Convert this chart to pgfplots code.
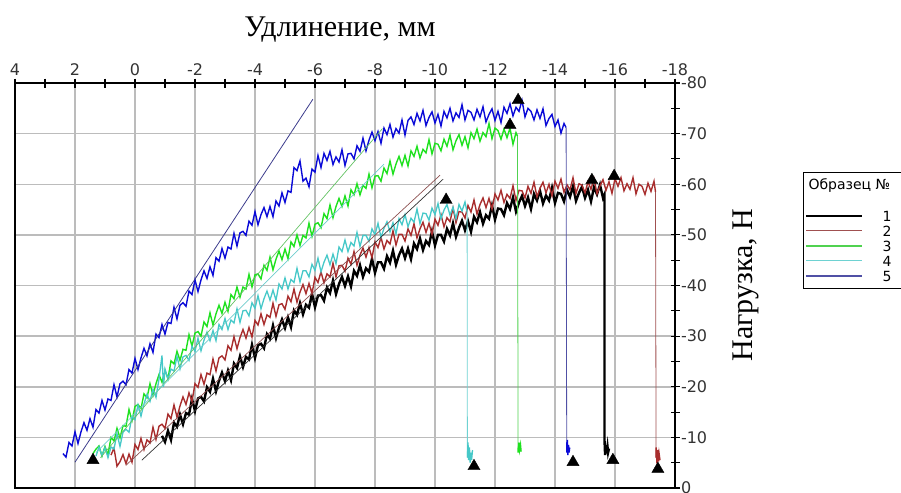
\documentclass[border=0pt]{standalone}
\usepackage{pgfplots}
\pgfplotsset{compat=1.18}
\usepackage{fontspec}
\setmainfont{Liberation Serif}
\newfontfamily\verd{DejaVu Sans}
\definecolor{gridc}{RGB}{188,188,188}
\definecolor{cblue}{RGB}{10,10,215}
\definecolor{cgreen}{RGB}{30,225,30}
\definecolor{ccyan}{RGB}{70,200,200}
\definecolor{cred}{RGB}{168,45,45}
\definecolor{fblue}{RGB}{60,60,140}
\definecolor{fgreen}{RGB}{100,195,100}
\definecolor{fcyan}{RGB}{110,205,205}
\definecolor{fred}{RGB}{140,80,80}
\definecolor{fblack}{RGB}{50,50,50}
\definecolor{lred}{RGB}{160,80,80}
\definecolor{lgreen}{RGB}{80,210,80}
\definecolor{lcyan}{RGB}{110,210,210}
\definecolor{lblue}{RGB}{80,80,165}
\begin{document}
\begin{tikzpicture}[x=1pt,y=1pt]
\path[use as bounding box] (0,0) rectangle (901,492);
\begin{axis}[
  at={(15pt,4pt)}, anchor=south west,
  width=660pt, height=405pt, scale only axis,
  xmin=-18, xmax=4, ymin=-80, ymax=0,
  x dir=reverse, y dir=reverse,
  xtick={-18,-16,...,4},
  xticklabels={-18,-16,-14,-12,-10,-8,-6,-4,-2,0,2,4},
  ytick={-80,-70,...,0},
  yticklabels={-80,-70,-60,-50,-40,-30,-20,-10,0},
  minor x tick num=1, minor y tick num=1,
  xtick pos=upper, xticklabel pos=upper,
  ytick pos=right, yticklabel pos=right,
  tick align=center,
  major tick length=9pt, minor tick length=9pt,
  tick style={black, line width=1.1pt},
  grid=major, grid style={gridc, line width=1.5pt},
  axis line style={black, line width=1.5pt},
  ticklabel style={font=\verd\fontsize{16}{18}\selectfont, text=black!80},
  yticklabel style={anchor=west, xshift=-2pt},
  xticklabel style={yshift=-1pt},
  clip=true,
]
% Sample 1 (black)
\addplot[black, line width=2.4pt] coordinates {(-0.9,-10.3)(-1.0,-9.1)(-1.1,-11.3)(-1.2,-9.5)(-1.3,-12.9)(-1.4,-12.1)(-1.5,-14.5)(-1.6,-12.6)(-1.7,-14.8)(-1.8,-14.5)(-1.9,-17.6)(-2.0,-15.2)(-2.1,-17.7)(-2.2,-18.0)(-2.3,-17.1)(-2.4,-19.9)(-2.5,-19.0)(-2.6,-21.6)(-2.7,-19.1)(-2.8,-21.2)(-2.9,-22.8)(-3.0,-21.1)(-3.1,-23.2)(-3.2,-21.3)(-3.3,-24.6)(-3.4,-23.7)(-3.5,-26.0)(-3.6,-23.9)(-3.7,-25.9)(-3.8,-25.4)(-3.9,-28.3)(-4.0,-25.7)(-4.1,-28.2)(-4.2,-28.5)(-4.3,-27.6)(-4.4,-30.4)(-4.5,-29.5)(-4.6,-32.1)(-4.7,-29.6)(-4.8,-31.7)(-4.9,-33.3)(-5.0,-31.6)(-5.1,-33.7)(-5.2,-31.8)(-5.3,-35.1)(-5.4,-34.2)(-5.5,-36.5)(-5.6,-34.3)(-5.7,-36.2)(-5.8,-35.6)(-5.9,-38.4)(-6.0,-35.7)(-6.1,-38.0)(-6.2,-38.1)(-6.3,-37.0)(-6.4,-39.6)(-6.5,-38.5)(-6.6,-41.0)(-6.7,-38.3)(-6.8,-40.3)(-6.9,-41.7)(-7.0,-39.9)(-7.1,-41.8)(-7.2,-39.8)(-7.3,-42.9)(-7.4,-41.9)(-7.5,-44.0)(-7.6,-41.7)(-7.7,-43.4)(-7.8,-42.7)(-7.9,-45.3)(-8.0,-42.5)(-8.1,-44.6)(-8.2,-44.6)(-8.3,-43.3)(-8.4,-45.8)(-8.5,-44.5)(-8.6,-46.9)(-8.7,-44.1)(-8.8,-46.0)(-8.9,-47.3)(-9.0,-45.4)(-9.1,-47.3)(-9.2,-45.2)(-9.3,-48.3)(-9.4,-47.2)(-9.5,-49.3)(-9.6,-47.0)(-9.7,-48.8)(-9.8,-48.0)(-9.9,-50.7)(-10.0,-47.9)(-10.1,-50.0)(-10.2,-50.0)(-10.3,-48.7)(-10.4,-51.2)(-10.5,-49.9)(-10.6,-52.3)(-10.7,-49.6)(-10.8,-51.4)(-10.9,-52.8)(-11.0,-50.9)(-11.1,-52.7)(-11.2,-50.6)(-11.3,-53.6)(-11.4,-52.5)(-11.5,-54.5)(-11.6,-52.2)(-11.7,-53.9)(-11.8,-53.2)(-11.9,-55.8)(-12.0,-53.0)(-12.1,-55.2)(-12.2,-55.1)(-12.3,-53.9)(-12.4,-56.3)(-12.5,-55.1)(-12.6,-57.4)(-12.7,-54.6)(-12.8,-56.4)(-12.9,-57.7)(-13.0,-55.7)(-13.1,-57.4)(-13.2,-55.1)(-13.3,-58.1)(-13.4,-56.8)(-13.5,-58.7)(-13.6,-56.2)(-13.7,-57.8)(-13.8,-56.8)(-13.9,-59.3)(-14.0,-56.3)(-14.1,-58.3)(-14.2,-58.1)(-14.3,-56.6)(-14.4,-58.9)(-14.5,-57.5)(-14.6,-59.6)(-14.7,-56.7)(-14.8,-58.3)(-14.9,-59.5)(-15.0,-57.3)(-15.1,-58.9)(-15.2,-56.6)(-15.3,-59.4)(-15.4,-58.0)(-15.5,-59.9)(-15.6,-57.3)(-15.65,-58.0)(-15.65,-9.5)(-15.67,-6.5)(-15.7,-8.5)(-15.72,-6.8)(-15.75,-8.2)(-15.77,-7.0)(-15.8,-7.8)};
% Sample 2 (red)
\addplot[cred, line width=1.4pt] coordinates {(0.8,-6.5)(0.7,-7.9)(0.6,-4.3)(0.5,-5.2)(0.4,-6.6)(0.3,-4.8)(0.2,-6.7)(0.1,-5.1)(0.0,-8.6)(-0.1,-7.6)(-0.2,-9.8)(-0.3,-7.6)(-0.4,-9.5)(-0.5,-8.9)(-0.6,-12.0)(-0.7,-9.6)(-0.8,-12.2)(-0.9,-12.6)(-1.0,-11.8)(-1.1,-14.6)(-1.2,-13.7)(-1.3,-16.4)(-1.4,-14.0)(-1.5,-16.2)(-1.6,-18.0)(-1.7,-16.5)(-1.8,-18.8)(-1.9,-17.1)(-2.0,-20.6)(-2.1,-19.9)(-2.2,-22.4)(-2.3,-20.5)(-2.4,-22.7)(-2.5,-22.4)(-2.6,-25.5)(-2.7,-23.1)(-2.8,-25.7)(-2.9,-26.1)(-3.0,-25.3)(-3.1,-28.1)(-3.2,-27.2)(-3.3,-29.9)(-3.4,-27.5)(-3.5,-29.7)(-3.6,-31.3)(-3.7,-29.6)(-3.8,-31.7)(-3.9,-29.8)(-4.0,-33.1)(-4.1,-32.2)(-4.2,-34.4)(-4.3,-32.3)(-4.4,-34.2)(-4.5,-33.7)(-4.6,-36.5)(-4.7,-33.9)(-4.8,-36.2)(-4.9,-36.4)(-5.0,-35.3)(-5.1,-37.9)(-5.2,-36.8)(-5.3,-39.3)(-5.4,-36.7)(-5.5,-38.7)(-5.6,-40.2)(-5.7,-38.4)(-5.8,-40.4)(-5.9,-38.4)(-6.0,-41.6)(-6.1,-40.6)(-6.2,-42.7)(-6.3,-40.5)(-6.4,-42.3)(-6.5,-41.7)(-6.6,-44.4)(-6.7,-41.7)(-6.8,-43.9)(-6.9,-44.0)(-7.0,-42.8)(-7.1,-45.4)(-7.2,-44.2)(-7.3,-46.7)(-7.4,-44.0)(-7.5,-46.0)(-7.6,-47.4)(-7.7,-45.6)(-7.8,-47.5)(-7.9,-45.5)(-8.0,-48.6)(-8.1,-47.5)(-8.2,-49.5)(-8.3,-47.2)(-8.4,-48.9)(-8.5,-48.2)(-8.6,-50.8)(-8.7,-48.0)(-8.8,-50.1)(-8.9,-50.1)(-9.0,-48.8)(-9.1,-51.2)(-9.2,-49.9)(-9.3,-52.2)(-9.4,-49.4)(-9.5,-51.2)(-9.6,-52.5)(-9.7,-50.5)(-9.8,-52.3)(-9.9,-50.1)(-10.0,-53.1)(-10.1,-51.9)(-10.2,-54.0)(-10.3,-51.6)(-10.4,-53.4)(-10.5,-52.6)(-10.6,-55.3)(-10.7,-52.4)(-10.8,-54.6)(-10.9,-54.5)(-11.0,-53.3)(-11.1,-55.8)(-11.2,-54.5)(-11.3,-56.9)(-11.4,-54.1)(-11.5,-56.0)(-11.6,-57.3)(-11.7,-55.4)(-11.8,-57.2)(-11.9,-55.1)(-12.0,-58.1)(-12.1,-56.9)(-12.2,-58.8)(-12.3,-56.4)(-12.4,-58.0)(-12.5,-57.2)(-12.6,-59.7)(-12.7,-56.8)(-12.8,-58.8)(-12.9,-58.7)(-13.0,-57.3)(-13.1,-59.6)(-13.2,-58.2)(-13.3,-60.4)(-13.4,-57.5)(-13.5,-59.2)(-13.6,-60.4)(-13.7,-58.3)(-13.8,-60.0)(-13.9,-57.7)(-14.0,-60.6)(-14.1,-59.2)(-14.2,-61.0)(-14.3,-58.4)(-14.4,-59.9)(-14.5,-58.9)(-14.6,-61.3)(-14.7,-58.2)(-14.8,-60.1)(-14.9,-59.8)(-15.0,-58.3)(-15.1,-60.5)(-15.2,-59.0)(-15.3,-61.1)(-15.4,-58.1)(-15.5,-59.7)(-15.6,-60.9)(-15.7,-58.8)(-15.8,-60.5)(-15.9,-58.2)(-16.0,-61.1)(-16.1,-59.6)(-16.2,-61.3)(-16.3,-58.7)(-16.4,-60.1)(-16.5,-59.0)(-16.6,-61.3)(-16.7,-58.1)(-16.8,-60.0)(-16.9,-59.6)(-17.0,-58.0)(-17.1,-60.2)(-17.2,-58.6)(-17.3,-60.6)(-17.35,-58.5)};
\addplot[lred, line width=0.8pt] coordinates {(-17.35,-58.5)(-17.37,-6.0)};
\addplot[cred, line width=1.4pt] coordinates {(-17.37,-6.0)(-17.37,-8.0)(-17.4,-4.8)(-17.42,-7.5)(-17.45,-5.2)(-17.47,-6.8)(-17.5,-5.5)};
% Sample 3 (green)
\addplot[cgreen, line width=1.4pt] coordinates {(1.4,-6.8)(1.3,-7.7)(1.2,-8.3)(1.1,-6.3)(1.0,-8.2)(0.9,-6.5)(0.8,-10.0)(0.7,-9.3)(0.6,-11.8)(0.5,-9.9)(0.4,-12.3)(0.3,-12.2)(0.2,-15.5)(0.1,-13.3)(0.0,-16.1)(-0.1,-16.5)(-0.2,-15.7)(-0.3,-18.6)(-0.4,-17.8)(-0.5,-20.6)(-0.6,-18.3)(-0.7,-20.6)(-0.8,-22.4)(-0.9,-20.9)(-1.0,-23.2)(-1.1,-21.6)(-1.2,-25.1)(-1.3,-24.5)(-1.4,-27.0)(-1.5,-25.2)(-1.6,-27.4)(-1.7,-27.2)(-1.8,-30.3)(-1.9,-28.0)(-2.0,-30.6)(-2.1,-30.9)(-2.2,-30.0)(-2.3,-32.8)(-2.4,-31.9)(-2.5,-34.6)(-2.6,-32.2)(-2.7,-34.4)(-2.8,-36.1)(-2.9,-34.5)(-3.0,-36.7)(-3.1,-34.9)(-3.2,-38.2)(-3.3,-37.4)(-3.4,-39.7)(-3.5,-37.7)(-3.6,-39.7)(-3.7,-39.3)(-3.8,-42.2)(-3.9,-39.7)(-4.0,-42.1)(-4.1,-42.3)(-4.2,-41.3)(-4.3,-44.0)(-4.4,-43.0)(-4.5,-45.6)(-4.6,-43.1)(-4.7,-45.2)(-4.8,-46.8)(-4.9,-45.1)(-5.0,-47.2)(-5.1,-45.3)(-5.2,-48.6)(-5.3,-47.7)(-5.4,-50.0)(-5.5,-47.9)(-5.6,-49.9)(-5.7,-49.4)(-5.8,-52.3)(-5.9,-49.7)(-6.0,-52.1)(-6.1,-52.4)(-6.2,-51.4)(-6.3,-54.2)(-6.4,-53.2)(-6.5,-55.9)(-6.6,-53.4)(-6.7,-55.6)(-6.8,-57.2)(-6.9,-55.6)(-7.0,-57.7)(-7.1,-55.7)(-7.2,-58.9)(-7.3,-57.9)(-7.4,-60.1)(-7.5,-57.9)(-7.6,-59.8)(-7.7,-59.2)(-7.8,-62.0)(-7.9,-59.3)(-8.0,-61.6)(-8.1,-61.7)(-8.2,-60.6)(-8.3,-63.2)(-8.4,-62.1)(-8.5,-64.6)(-8.6,-62.0)(-8.7,-64.0)(-8.8,-65.5)(-8.9,-63.7)(-9.0,-65.7)(-9.1,-63.6)(-9.2,-66.6)(-9.3,-65.5)(-9.4,-67.5)(-9.5,-65.2)(-9.6,-66.9)(-9.7,-66.2)(-9.8,-68.8)(-9.9,-66.0)(-10.0,-68.1)(-10.1,-67.9)(-10.2,-66.6)(-10.3,-68.9)(-10.4,-67.5)(-10.5,-69.7)(-10.6,-66.8)(-10.7,-68.6)(-10.8,-69.8)(-10.9,-67.7)(-11.0,-69.4)(-11.1,-67.2)(-11.2,-70.2)(-11.3,-69.0)(-11.4,-70.9)(-11.5,-68.5)(-11.6,-70.2)(-11.7,-69.4)(-11.8,-72.0)(-11.9,-69.0)(-12.0,-71.1)(-12.1,-70.6)(-12.2,-68.9)(-12.3,-70.9)(-12.4,-69.2)(-12.5,-71.1)(-12.6,-67.9)(-12.7,-70.2)(-12.75,-69.5)};
\addplot[lgreen, line width=0.8pt] coordinates {(-12.75,-69.5)(-12.77,-8.0)};
\addplot[cgreen, line width=1.4pt] coordinates {(-12.77,-8.0)(-12.77,-7.0)(-12.8,-9.0)(-12.82,-7.5)(-12.85,-8.5)(-12.87,-7.2)};
% Sample 4 (cyan)
\addplot[ccyan, line width=1.3pt] coordinates {(1.3,-6.3)(1.2,-8.1)(1.1,-6.4)(1.0,-8.0)(0.9,-6.0)(0.8,-8.1)(0.7,-7.7)(0.6,-10.7)(0.5,-8.2)(0.4,-11.0)(0.3,-11.6)(0.2,-11.0)(0.1,-14.1)(0.0,-13.5)(-0.1,-16.4)(-0.2,-14.2)(-0.3,-16.6)(-0.4,-18.5)(-0.5,-17.1)(-0.6,-19.5)(-0.7,-17.9)(-0.8,-21.5)(-0.9,-26.2)(-0.95,-20.0)(-1.0,-23.5)(-1.1,-21.5)(-1.2,-23.5)(-1.3,-23.1)(-1.4,-26.0)(-1.5,-23.5)(-1.6,-25.9)(-1.7,-26.2)(-1.8,-25.2)(-1.9,-28.0)(-2.0,-27.0)(-2.1,-29.6)(-2.2,-27.1)(-2.3,-29.2)(-2.4,-30.8)(-2.5,-29.1)(-2.6,-31.1)(-2.7,-29.1)(-2.8,-32.3)(-2.9,-31.3)(-3.0,-33.5)(-3.1,-31.3)(-3.2,-33.2)(-3.3,-32.6)(-3.4,-35.4)(-3.5,-32.7)(-3.6,-35.0)(-3.7,-35.1)(-3.8,-34.0)(-3.9,-36.6)(-4.0,-35.5)(-4.1,-38.0)(-4.2,-35.4)(-4.3,-37.4)(-4.4,-38.9)(-4.5,-37.1)(-4.6,-39.1)(-4.7,-37.1)(-4.8,-40.3)(-4.9,-39.3)(-5.0,-41.5)(-5.1,-39.3)(-5.2,-41.2)(-5.3,-40.6)(-5.4,-43.4)(-5.5,-40.7)(-5.6,-42.9)(-5.7,-42.9)(-5.8,-41.7)(-5.9,-44.2)(-6.0,-43.0)(-6.1,-45.4)(-6.2,-42.7)(-6.3,-44.6)(-6.4,-46.0)(-6.5,-44.1)(-6.6,-46.2)(-6.7,-44.3)(-6.8,-47.6)(-6.9,-46.7)(-7.0,-49.0)(-7.1,-46.7)(-7.2,-48.5)(-7.3,-47.8)(-7.4,-50.5)(-7.5,-47.7)(-7.6,-49.9)(-7.7,-49.9)(-7.8,-48.7)(-7.9,-51.2)(-8.0,-50.0)(-8.1,-52.3)(-8.2,-49.5)(-8.3,-51.3)(-8.4,-52.6)(-8.5,-50.6)(-8.6,-52.4)(-8.7,-50.2)(-8.8,-53.2)(-8.9,-52.0)(-9.0,-54.0)(-9.1,-51.6)(-9.2,-53.3)(-9.3,-52.5)(-9.4,-55.1)(-9.5,-52.2)(-9.6,-54.3)(-9.7,-54.2)(-9.8,-52.9)(-9.9,-55.3)(-10.0,-54.0)(-10.1,-56.2)(-10.2,-53.2)(-10.3,-54.9)(-10.4,-56.0)(-10.5,-53.9)(-10.6,-55.5)(-10.7,-53.2)(-10.8,-56.0)(-10.9,-54.7)(-11.0,-56.5)(-11.07,-54.5)};
\addplot[lcyan, line width=0.8pt] coordinates {(-11.07,-54.5)(-11.08,-6.0)};
\addplot[ccyan, line width=1.3pt] coordinates {(-11.08,-6.0)(-11.1,-9.0)(-11.12,-5.5)(-11.15,-8.0)(-11.17,-5.0)(-11.2,-7.0)(-11.22,-5.5)(-11.25,-7.5)};
% Sample 5 (blue)
\addplot[cblue, line width=1.4pt] coordinates {(2.4,-6.8)(2.3,-6.1)(2.2,-9.0)(2.1,-8.3)(2.0,-11.1)(1.9,-8.8)(1.8,-11.1)(1.7,-12.9)(1.6,-11.4)(1.5,-13.7)(1.4,-12.0)(1.3,-15.5)(1.2,-14.8)(1.1,-17.3)(1.0,-15.4)(0.9,-17.6)(0.8,-17.3)(0.7,-20.4)(0.6,-18.0)(0.5,-20.6)(0.4,-21.1)(0.3,-20.4)(0.2,-23.4)(0.1,-22.7)(0.0,-25.6)(-0.1,-23.4)(-0.2,-25.7)(-0.3,-27.6)(-0.4,-26.1)(-0.5,-28.5)(-0.6,-26.8)(-0.7,-30.4)(-0.8,-29.7)(-0.9,-32.3)(-1.0,-30.4)(-1.1,-32.7)(-1.2,-32.5)(-1.3,-35.7)(-1.4,-33.4)(-1.5,-36.1)(-1.6,-36.6)(-1.7,-35.9)(-1.8,-38.9)(-1.9,-38.2)(-2.0,-41.1)(-2.1,-38.8)(-2.2,-41.1)(-2.3,-42.9)(-2.4,-41.4)(-2.5,-43.7)(-2.6,-42.0)(-2.7,-45.5)(-2.8,-44.8)(-2.9,-47.3)(-3.0,-45.4)(-3.1,-47.6)(-3.2,-47.2)(-3.3,-50.3)(-3.4,-47.8)(-3.5,-50.4)(-3.6,-50.7)(-3.7,-49.9)(-3.8,-52.7)(-3.9,-51.9)(-4.0,-54.6)(-4.1,-52.0)(-4.2,-54.0)(-4.3,-55.4)(-4.4,-53.6)(-4.5,-55.6)(-4.6,-53.6)(-4.7,-56.7)(-4.8,-55.7)(-4.9,-58.3)(-5.0,-56.4)(-5.1,-58.7)(-5.2,-58.4)(-5.3,-63.3)(-5.4,-62.7)(-5.5,-64.6)(-5.6,-60.6)(-5.7,-61.2)(-5.8,-59.5)(-5.9,-63.0)(-6.0,-62.4)(-6.1,-65.7)(-6.2,-63.3)(-6.3,-66.1)(-6.4,-64.7)(-6.5,-66.5)(-6.6,-63.9)(-6.7,-65.4)(-6.8,-64.4)(-6.9,-66.8)(-7.0,-63.7)(-7.1,-66.0)(-7.2,-66.1)(-7.3,-65.0)(-7.4,-67.6)(-7.5,-66.5)(-7.6,-69.1)(-7.7,-66.6)(-7.8,-68.7)(-7.9,-70.3)(-8.0,-68.6)(-8.1,-70.4)(-8.2,-68.1)(-8.3,-71.1)(-8.4,-69.8)(-8.5,-71.8)(-8.6,-69.3)(-8.7,-71.0)(-8.8,-70.1)(-8.9,-72.7)(-9.0,-69.7)(-9.1,-72.6)(-9.2,-73.3)(-9.3,-71.8)(-9.4,-74.0)(-9.5,-72.5)(-9.6,-74.6)(-9.7,-71.6)(-9.8,-73.2)(-9.9,-74.3)(-10.0,-72.1)(-10.1,-73.8)(-10.2,-71.5)(-10.3,-74.4)(-10.4,-73.1)(-10.5,-75.0)(-10.6,-72.5)(-10.7,-74.1)(-10.8,-73.2)(-10.9,-75.7)(-11.0,-72.7)(-11.1,-74.6)(-11.2,-74.2)(-11.3,-72.7)(-11.4,-74.8)(-11.5,-73.3)(-11.6,-75.3)(-11.7,-72.3)(-11.8,-73.8)(-11.9,-74.9)(-12.0,-72.6)(-12.1,-74.4)(-12.2,-72.2)(-12.3,-75.2)(-12.4,-74.0)(-12.5,-75.9)(-12.6,-73.5)(-12.7,-75.2)(-12.8,-74.4)(-12.9,-76.6)(-13.0,-73.3)(-13.1,-75.0)(-13.2,-74.4)(-13.3,-72.7)(-13.4,-74.7)(-13.5,-73.0)(-13.6,-74.9)(-13.7,-71.6)(-13.8,-73.0)(-13.9,-73.8)(-14.0,-71.4)(-14.1,-72.7)(-14.2,-70.1)(-14.3,-72.0)(-14.37,-71.2)};
\addplot[lblue, line width=0.8pt] coordinates {(-14.37,-71.2)(-14.39,-9.0)};
\addplot[cblue, line width=1.4pt] coordinates {(-14.39,-9.0)(-14.39,-7.0)(-14.41,-9.5)(-14.43,-6.5)(-14.45,-8.5)(-14.47,-7.0)(-14.49,-8.0)};
% fitted straight lines
\addplot[fblue, line width=0.8pt] coordinates {(2.0,-5.1)(-5.93,-76.8)};
\addplot[fgreen, line width=0.7pt] coordinates {(1.15,-6.0)(-8.25,-71.0)};
\addplot[fcyan, line width=0.7pt] coordinates {(1.3,-7.0)(-8.3,-64.0)};
\addplot[fred, line width=0.7pt] coordinates {(0.3,-4.5)(-10.17,-61.8)};
\addplot[fblack, line width=0.7pt] coordinates {(-0.23,-5.5)(-10.27,-61.0)};
% event markers
\addplot[only marks, mark=triangle*, mark size=7pt, black] coordinates {(1.4,-5.5)(-12.77,-76.6)(-12.5,-71.7)(-10.37,-56.9)(-15.23,-60.8)(-15.97,-61.6)(-11.3,-4.3)(-14.6,-5.1)(-15.93,-5.5)(-17.43,-3.75)};
\end{axis}
\node[font=\fontsize{30}{34}\selectfont] at (340,462) {Удлинение, мм};
\node[rotate=90, font=\fontsize{30}{34}\selectfont] at (746,207) {Нагрузка, Н};
% legend
\draw[black, line width=0.8pt] (803,204) rectangle (915,320);
\node[anchor=base west, font=\verd\fontsize{14}{16}\selectfont] at (805,302) {Образец №};
\draw[black, line width=2.5pt] (806,276) -- (862,276);
\draw[lred, line width=1pt] (806,261) -- (862,261);
\draw[lgreen, line width=1.5pt] (806,246) -- (862,246);
\draw[lcyan, line width=1pt] (806,231) -- (862,231);
\draw[lblue, line width=1.5pt] (806,216) -- (862,216);
\foreach \n/\yy in {1/276,2/261,3/246,4/231,5/216}
  \node[font=\verd\fontsize{14}{16}\selectfont] at (887,\yy) {\n};
\end{tikzpicture}
\end{document}
